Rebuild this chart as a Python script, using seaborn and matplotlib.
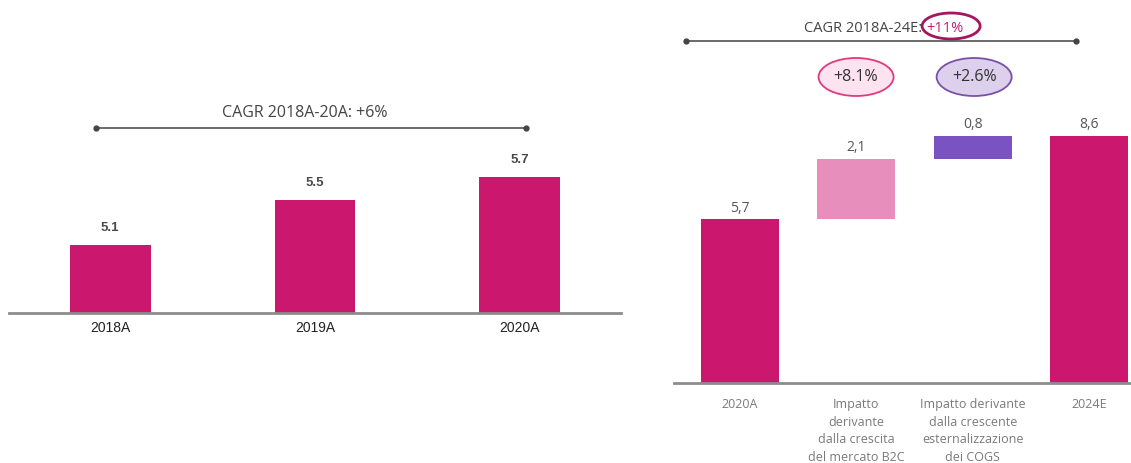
import matplotlib
matplotlib.use("Agg")
import matplotlib.pyplot as plt
import seaborn as sns
import pandas as pd
from matplotlib.patches import Ellipse

sns.set_theme(style="white")
plt.rcParams['font.family'] = ['Liberation Sans', 'DejaVu Sans']

# ---- data ----
left_cats = ["2018A", "2019A", "2020A"]
left_vals = [5.1, 5.5, 5.7]
left_labels = ["5.1", "5.5", "5.7"]
left_cagr = "CAGR 2018A-20A: +6%"

right_cats = ["2020A", "Impatto\nderivante\ndalla crescita\ndel mercato B2C",
              "Impatto derivante\ndalla crescente\nesternalizzazione\ndei COGS", "2024E"]
right_vals = [5.7, 2.1, 0.8, 8.6]
right_bottoms = [0.0, 5.7, 7.8, 0.0]
right_labels = ["5,7", "2,1", "0,8", "8,6"]
right_cagr_prefix = "CAGR 2018A-24E:"
right_cagr_value = "+11%"
bubble_labels = ["+8.1%", "+2.6%"]

MAGENTA = "#CB186E"
LIGHTPINK = "#E88EBC"
PURPLE = "#7B52C1"
right_colors = [MAGENTA, LIGHTPINK, PURPLE, MAGENTA]

W, H = 1131, 463
fig = plt.figure(figsize=(W / 100, H / 100), dpi=100)
OPEN = ["Open Sans", "DejaVu Sans"]

# ---------------- left panel ----------------
axL = fig.add_axes([9 / W, (H - 313) / H, 612 / W, 313 / H])
dfL = pd.DataFrame({"cat": left_cats, "val": left_vals})
sns.barplot(data=dfL, x="cat", y="val", ax=axL, color=MAGENTA, width=0.395,
            saturation=1, edgecolor="none")
ymin_L = 4.5
axL.set_ylim(ymin_L, ymin_L + 313 / 113)
axL.set_xlim(-0.493, 2.493)
for i, (v, t) in enumerate(zip(left_vals, left_labels)):
    axL.text(i, v + 0.1, t, ha="center", va="bottom", fontsize=9.5,
             fontweight="bold", color="#4a4a4a")
axL.set_xlabel("")
axL.set_ylabel("")
axL.set_yticks([])
axL.set_xticks(range(len(left_cats)))
axL.set_xticklabels(left_cats, fontsize=10, color="#222222")
axL.tick_params(axis="x", length=0, pad=6)
for s in ["top", "right", "left"]:
    axL.spines[s].set_visible(False)
axL.spines["bottom"].set_color("#8c8c8c")
axL.spines["bottom"].set_linewidth(2)
yline_L = ymin_L + (313 - 128) / 113
axL.plot([-0.07, 2.03], [yline_L, yline_L], color="#444444", lw=1.1,
         marker="o", markersize=3.5, clip_on=False)
axL.text(0.95, ymin_L + (313 - 113) / 113, left_cagr, ha="center", va="center",
         fontsize=11.5, color="#444444", family=OPEN)

# ---------------- right panel ----------------
axR = fig.add_axes([674 / W, (H - 383) / H, 457 / W, 383 / H])
dfR = pd.DataFrame({"cat": right_cats, "val": right_vals})
sns.barplot(data=dfR, x="cat", y="val", ax=axR, color=MAGENTA, width=0.67,
            saturation=1, edgecolor="none", bottom=right_bottoms)
for p, c in zip(axR.patches, right_colors):
    p.set_facecolor(c)
pxu = 28.75
axR.set_ylim(0, 383 / pxu)
axR.set_xlim(-0.567, 3.36)
for i, (v, b, t) in enumerate(zip(right_vals, right_bottoms, right_labels)):
    axR.text(i, b + v + 0.12, t, ha="center", va="bottom", fontsize=10,
             color="#555555", family=OPEN)
axR.set_xlabel("")
axR.set_ylabel("")
axR.set_yticks([])
axR.set_xticks(range(len(right_cats)))
axR.set_xticklabels(right_cats, fontsize=9, color="#7a7a7a",
                    family=OPEN, linespacing=1.45, va="top")
axR.tick_params(axis="x", length=0, pad=11)
for s in ["top", "right", "left"]:
    axR.spines[s].set_visible(False)
axR.spines["bottom"].set_color("#8c8c8c")
axR.spines["bottom"].set_linewidth(2)

def rx(px):
    return (px - 740) / 116.3

def ry(py):
    return (383 - py) / pxu

axR.plot([rx(686), rx(1076)], [ry(41), ry(41)], color="#444444", lw=1.1,
         marker="o", markersize=3.5, clip_on=False)
axR.text(rx(922), ry(28), right_cagr_prefix, ha="right", va="center", fontsize=10.5,
         color="#444444", family=OPEN)
axR.text(rx(945), ry(28), right_cagr_value, ha="center", va="center", fontsize=10.5,
         color=MAGENTA, family=OPEN)
axR.add_patch(Ellipse((rx(951), ry(26)), 58 / 116.3, 26 / pxu, fill=False,
                      edgecolor="#A51660", lw=2, clip_on=False))
# growth bubbles
bubble_x = [856, 974]
bubble_fc = ["#FCE3EF", "#DDD0EC"]
bubble_ec = ["#E0397F", "#7B4FA8"]
for bx, t, fc, ec in zip(bubble_x, bubble_labels, bubble_fc, bubble_ec):
    axR.add_patch(Ellipse((rx(bx), ry(77)), 75 / 116.3, 38 / pxu, facecolor=fc,
                          edgecolor=ec, lw=1.3, clip_on=False))
    axR.text(rx(bx), ry(77), t, ha="center", va="center", fontsize=11.5,
             color="#333333", family=OPEN)

fig.savefig("out.png", dpi=100, facecolor="white")
